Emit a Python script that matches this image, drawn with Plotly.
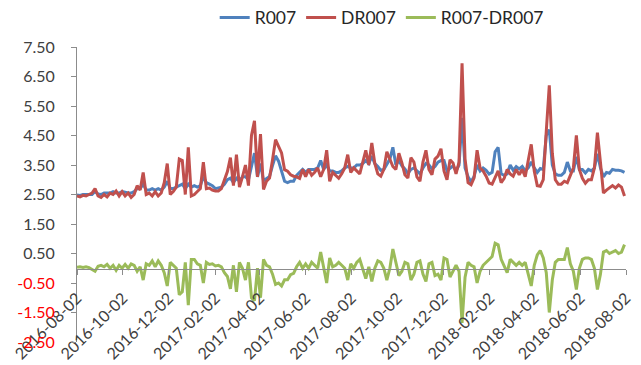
import pandas as pd
import plotly.graph_objects as go

# Observation dates (every 4 calendar days)
dates = pd.date_range("2016-08-02", periods=183, freq="4D")

# 7-day repo rates (%)
r007 = [
    2.48, 2.47, 2.50, 2.50, 2.52, 2.50, 2.60, 2.52, 2.50, 2.55,
    2.55, 2.55, 2.60, 2.55, 2.55, 2.60, 2.58, 2.55, 2.55, 2.60,
    2.70, 2.70, 2.85, 2.65, 2.65, 2.70, 2.65, 2.70, 2.65, 2.75,
    2.95, 2.70, 2.70, 2.75, 2.80, 2.85, 2.70, 2.85, 2.75, 2.80,
    2.75, 2.80, 3.10, 2.90, 2.85, 2.80, 2.70, 2.72, 2.75, 2.85,
    3.00, 3.05, 2.90, 3.05, 2.95, 3.10, 3.10, 3.00, 3.50, 3.90,
    3.10, 3.55, 2.97, 3.05, 3.11, 3.48, 3.81, 3.63, 3.31, 2.95,
    2.90, 2.95, 2.95, 3.15, 3.25, 3.35, 3.25, 3.35, 3.35, 3.35,
    3.40, 3.65, 3.35, 3.50, 3.30, 3.30, 3.25, 3.25, 3.30, 3.40,
    3.45, 3.40, 3.40, 3.50, 3.50, 3.55, 3.65, 3.55, 3.80, 3.55,
    3.45, 3.32, 3.35, 3.55, 3.70, 4.10, 3.50, 3.65, 3.47, 3.37,
    3.21, 3.35, 3.40, 3.30, 3.20, 3.40, 3.55, 3.50, 3.37, 3.45,
    3.60, 3.65, 3.65, 3.30, 3.38, 3.47, 3.30, 3.50, 5.10, 3.40,
    3.10, 2.93, 3.11, 3.50, 3.30, 3.40, 3.32, 3.19, 3.25, 3.95,
    4.10, 3.20, 3.15, 3.20, 3.50, 3.32, 3.45, 3.37, 3.45, 3.30,
    3.40, 3.60, 3.40, 3.25, 3.38, 3.35, 4.50, 4.70, 3.50, 3.20,
    3.15, 3.15, 3.25, 3.60, 3.30, 3.30, 3.78, 3.35, 3.35, 3.23,
    3.35, 3.30, 3.40, 3.88, 3.40, 3.10, 3.25, 3.22, 3.35, 3.32,
    3.32, 3.30, 3.25,
]

dr007 = [
    2.45, 2.42, 2.47, 2.45, 2.50, 2.55, 2.70, 2.45, 2.40, 2.50,
    2.42, 2.55, 2.50, 2.62, 2.45, 2.60, 2.45, 2.55, 2.40, 2.50,
    2.80, 2.65, 3.25, 2.50, 2.55, 2.45, 2.60, 2.45, 2.55, 2.90,
    3.55, 2.50, 2.60, 2.75, 3.70, 3.65, 2.50, 4.10, 2.45, 2.50,
    2.60, 2.70, 3.60, 2.70, 2.72, 2.65, 2.62, 2.62, 2.70, 3.00,
    3.28, 3.75, 2.80, 3.85, 2.75, 3.10, 3.50, 2.80, 4.50, 5.00,
    3.10, 4.55, 2.67, 2.95, 3.06, 3.68, 4.36, 4.13, 3.91, 3.34,
    3.29, 3.17, 3.12, 3.10, 3.05, 3.35, 3.10, 3.35, 3.15, 3.25,
    3.40, 3.10, 3.35, 4.00, 2.95, 3.25, 3.15, 3.05, 3.20, 3.40,
    3.85, 3.25, 3.40, 3.30, 3.20, 3.60, 4.00, 3.50, 4.25, 3.55,
    3.20, 3.12, 3.35, 3.95, 3.70, 3.45, 3.35, 3.90, 3.57, 3.17,
    3.06, 3.75, 3.60, 3.10, 2.95, 3.60, 4.00, 3.35, 3.17, 3.70,
    3.80, 4.05, 3.30, 3.00, 3.68, 3.57, 3.20, 3.60, 6.95, 3.70,
    2.90, 2.83, 3.06, 4.00, 3.40, 3.30, 3.12, 2.89, 2.85, 3.10,
    3.30, 2.90, 3.05, 3.35, 3.20, 3.12, 3.35, 3.17, 3.35, 3.10,
    3.60, 4.20, 3.30, 2.80, 2.78, 3.00, 4.65, 6.20, 3.90, 3.00,
    2.85, 2.85, 2.95, 2.90, 3.15, 3.40, 4.50, 3.35, 3.05, 2.88,
    3.00, 3.00, 3.40, 4.60, 3.60, 2.55, 2.65, 2.72, 2.80, 2.72,
    2.82, 2.75, 2.45,
]

# Spread between the two rates
spread = [round(a - b, 2) for a, b in zip(r007, dr007)]

# Y-axis ticks
y_ticks = [7.5, 6.5, 5.5, 4.5, 3.5, 2.5, 1.5, 0.5, -0.5, -1.5, -2.5]
y_labels = [
    f"<span style='color:#FF0000'>{v:.2f}</span>" if v < 0 else f"{v:.2f}"
    for v in y_ticks
]

FONT = "Lato"
AXIS_GREY = "#8C8C8C"

fig = go.Figure()
fig.add_trace(go.Scatter(x=dates, y=r007, name="R007", mode="lines",
                         line=dict(color="#4F81BD", width=3)))
fig.add_trace(go.Scatter(x=dates, y=dr007, name="DR007", mode="lines",
                         line=dict(color="#C0504D", width=3)))
fig.add_trace(go.Scatter(x=dates, y=spread, name="R007-DR007", mode="lines",
                         line=dict(color="#9BBB59", width=3)))

plot_top, plot_bottom = 47, 342
zero_pos = (plot_bottom - 268.7) / (plot_bottom - plot_top)

fig.update_layout(
    width=641, height=365,
    margin=dict(l=77, r=15, t=plot_top, b=365 - plot_bottom, pad=0,
                autoexpand=False),
    paper_bgcolor="white", plot_bgcolor="white",
    font=dict(family=FONT, size=16, color="#404040"),
    showlegend=True,
    legend=dict(orientation="h", x=0.555, xanchor="center",
                y=1.10, yanchor="middle",
                font=dict(family=FONT, size=17.5, color="#262626"),
                itemwidth=30, tracegroupgap=0),
    xaxis=dict(
        type="date",
        range=["2016-08-02", "2018-08-02"],
        anchor="free", position=zero_pos,
        showline=True, linecolor=AXIS_GREY, linewidth=1,
        ticks="outside", ticklen=5, tickcolor=AXIS_GREY,
        tick0="2016-08-02", dtick="M2", tickformat="%Y-%m-%d",
        tickangle=-45, ticklabelstandoff=8,
        showgrid=False, zeroline=False,
        tickfont=dict(family=FONT, size=16, color="#404040"),
    ),
    yaxis=dict(
        range=[-2.5, 7.5],
        tickvals=y_ticks, ticktext=y_labels,
        showline=True, linecolor=AXIS_GREY, linewidth=1,
        ticks="outside", ticklen=5, tickcolor=AXIS_GREY,
        ticklabelstandoff=13,
        showgrid=False, zeroline=False,
        tickfont=dict(family=FONT, size=16, color="#404040"),
    ),
)

fig.write_html("out.html")
